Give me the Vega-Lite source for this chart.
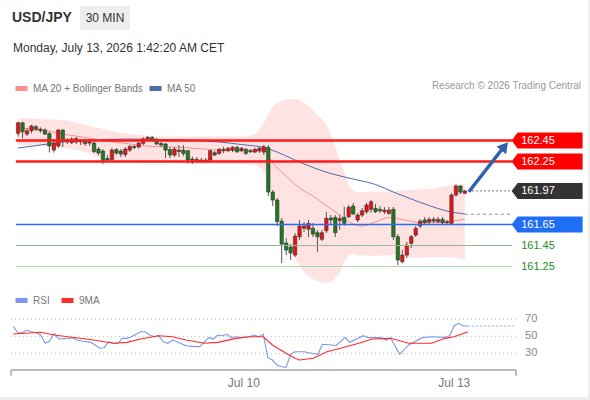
{
  "$schema": "https://vega.github.io/schema/vega-lite/v6.json",
  "background": "#eeeeee",
  "padding": {"left": 0, "top": 0, "right": 2, "bottom": 3},
  "spacing": 0,
  "bounds": "flush",
  "config": {"view": {"stroke": null, "fill": "white"}, "font": "Liberation Sans"},
  "resolve": {"scale": {"x": "independent", "y": "independent", "color": "independent"}, "legend": {"color": "independent"}},
  "datasets": {
    "candles": [
      {"i":0,"o":162.519,"h":162.629,"l":162.486,"c":162.619},
      {"i":1,"o":162.619,"h":162.629,"l":162.471,"c":162.534},
      {"i":2,"o":162.512,"h":162.566,"l":162.493,"c":162.543},
      {"i":3,"o":162.543,"h":162.600,"l":162.519,"c":162.588},
      {"i":4,"o":162.581,"h":162.598,"l":162.540,"c":162.557},
      {"i":5,"o":162.543,"h":162.576,"l":162.524,"c":162.557},
      {"i":6,"o":162.550,"h":162.566,"l":162.502,"c":162.512},
      {"i":7,"o":162.517,"h":162.531,"l":162.336,"c":162.398},
      {"i":8,"o":162.359,"h":162.464,"l":162.336,"c":162.426},
      {"i":9,"o":162.398,"h":162.559,"l":162.379,"c":162.550},
      {"i":10,"o":162.550,"h":162.559,"l":162.388,"c":162.445},
      {"i":11,"o":162.455,"h":162.474,"l":162.417,"c":162.436},
      {"i":12,"o":162.431,"h":162.483,"l":162.417,"c":162.464},
      {"i":13,"o":162.436,"h":162.483,"l":162.417,"c":162.469},
      {"i":14,"o":162.445,"h":162.464,"l":162.407,"c":162.436},
      {"i":15,"o":162.445,"h":162.464,"l":162.398,"c":162.421},
      {"i":16,"o":162.426,"h":162.464,"l":162.398,"c":162.436},
      {"i":17,"o":162.426,"h":162.436,"l":162.331,"c":162.345},
      {"i":18,"o":162.369,"h":162.388,"l":162.312,"c":162.331},
      {"i":19,"o":162.350,"h":162.369,"l":162.226,"c":162.259},
      {"i":20,"o":162.279,"h":162.312,"l":162.245,"c":162.264},
      {"i":21,"o":162.269,"h":162.379,"l":162.255,"c":162.359},
      {"i":22,"o":162.364,"h":162.379,"l":162.312,"c":162.331},
      {"i":23,"o":162.350,"h":162.369,"l":162.293,"c":162.321},
      {"i":24,"o":162.317,"h":162.388,"l":162.293,"c":162.369},
      {"i":25,"o":162.359,"h":162.407,"l":162.340,"c":162.393},
      {"i":26,"o":162.393,"h":162.407,"l":162.369,"c":162.383},
      {"i":27,"o":162.388,"h":162.436,"l":162.374,"c":162.426},
      {"i":28,"o":162.423,"h":162.483,"l":162.407,"c":162.464},
      {"i":29,"o":162.464,"h":162.493,"l":162.445,"c":162.479},
      {"i":30,"o":162.479,"h":162.493,"l":162.445,"c":162.455},
      {"i":31,"o":162.455,"h":162.474,"l":162.407,"c":162.417},
      {"i":32,"o":162.423,"h":162.436,"l":162.388,"c":162.407},
      {"i":33,"o":162.417,"h":162.426,"l":162.283,"c":162.359},
      {"i":34,"o":162.364,"h":162.388,"l":162.283,"c":162.312},
      {"i":35,"o":162.312,"h":162.388,"l":162.293,"c":162.369},
      {"i":36,"o":162.345,"h":162.407,"l":162.293,"c":162.359},
      {"i":37,"o":162.359,"h":162.407,"l":162.302,"c":162.326},
      {"i":38,"o":162.353,"h":162.359,"l":162.231,"c":162.264},
      {"i":39,"o":162.274,"h":162.298,"l":162.226,"c":162.259},
      {"i":40,"o":162.259,"h":162.293,"l":162.245,"c":162.269},
      {"i":41,"o":162.264,"h":162.283,"l":162.245,"c":162.255},
      {"i":42,"o":162.264,"h":162.283,"l":162.240,"c":162.250},
      {"i":43,"o":162.264,"h":162.359,"l":162.255,"c":162.353},
      {"i":44,"o":162.334,"h":162.350,"l":162.302,"c":162.312},
      {"i":45,"o":162.328,"h":162.379,"l":162.312,"c":162.366},
      {"i":46,"o":162.353,"h":162.391,"l":162.328,"c":162.366},
      {"i":47,"o":162.353,"h":162.388,"l":162.340,"c":162.376},
      {"i":48,"o":162.359,"h":162.398,"l":162.340,"c":162.385},
      {"i":49,"o":162.385,"h":162.398,"l":162.331,"c":162.343},
      {"i":50,"o":162.353,"h":162.388,"l":162.340,"c":162.376},
      {"i":51,"o":162.366,"h":162.379,"l":162.312,"c":162.328},
      {"i":52,"o":162.353,"h":162.369,"l":162.331,"c":162.343},
      {"i":53,"o":162.340,"h":162.379,"l":162.331,"c":162.366},
      {"i":54,"o":162.350,"h":162.388,"l":162.331,"c":162.376},
      {"i":55,"o":162.340,"h":162.407,"l":162.312,"c":162.391},
      {"i":56,"o":162.385,"h":162.407,"l":161.921,"c":161.959},
      {"i":57,"o":161.959,"h":161.979,"l":161.826,"c":161.883},
      {"i":58,"o":161.883,"h":161.902,"l":161.636,"c":161.677},
      {"i":59,"o":161.683,"h":161.712,"l":161.283,"c":161.464},
      {"i":60,"o":161.474,"h":161.521,"l":161.359,"c":161.407},
      {"i":61,"o":161.436,"h":161.464,"l":161.312,"c":161.379},
      {"i":62,"o":161.359,"h":161.569,"l":161.340,"c":161.540},
      {"i":63,"o":161.534,"h":161.693,"l":161.502,"c":161.636},
      {"i":64,"o":161.614,"h":161.674,"l":161.578,"c":161.636},
      {"i":65,"o":161.605,"h":161.693,"l":161.531,"c":161.661},
      {"i":66,"o":161.614,"h":161.664,"l":161.531,"c":161.559},
      {"i":67,"o":161.572,"h":161.598,"l":161.391,"c":161.534},
      {"i":68,"o":161.509,"h":161.598,"l":161.493,"c":161.572},
      {"i":69,"o":161.591,"h":161.769,"l":161.569,"c":161.709},
      {"i":70,"o":161.712,"h":161.740,"l":161.645,"c":161.693},
      {"i":71,"o":161.718,"h":161.740,"l":161.531,"c":161.572},
      {"i":72,"o":161.688,"h":161.740,"l":161.598,"c":161.707},
      {"i":73,"o":161.718,"h":161.819,"l":161.636,"c":161.661},
      {"i":74,"o":161.724,"h":161.836,"l":161.712,"c":161.814},
      {"i":75,"o":161.826,"h":161.855,"l":161.740,"c":161.750},
      {"i":76,"o":161.693,"h":161.759,"l":161.674,"c":161.740},
      {"i":77,"o":161.740,"h":161.807,"l":161.721,"c":161.781},
      {"i":78,"o":161.772,"h":161.857,"l":161.750,"c":161.836},
      {"i":79,"o":161.795,"h":161.883,"l":161.762,"c":161.867},
      {"i":80,"o":161.804,"h":161.845,"l":161.759,"c":161.772},
      {"i":81,"o":161.795,"h":161.826,"l":161.759,"c":161.781},
      {"i":82,"o":161.772,"h":161.817,"l":161.750,"c":161.788},
      {"i":83,"o":161.757,"h":161.817,"l":161.740,"c":161.788},
      {"i":84,"o":161.795,"h":161.817,"l":161.502,"c":161.534},
      {"i":85,"o":161.534,"h":161.559,"l":161.264,"c":161.312},
      {"i":86,"o":161.296,"h":161.407,"l":161.281,"c":161.359},
      {"i":87,"o":161.359,"h":161.486,"l":161.328,"c":161.455},
      {"i":88,"o":161.471,"h":161.550,"l":161.426,"c":161.534},
      {"i":89,"o":161.550,"h":161.636,"l":161.531,"c":161.614},
      {"i":90,"o":161.636,"h":161.702,"l":161.617,"c":161.683},
      {"i":91,"o":161.693,"h":161.721,"l":161.655,"c":161.667},
      {"i":92,"o":161.674,"h":161.721,"l":161.655,"c":161.699},
      {"i":93,"o":161.699,"h":161.721,"l":161.664,"c":161.683},
      {"i":94,"o":161.677,"h":161.721,"l":161.664,"c":161.699},
      {"i":95,"o":161.699,"h":161.721,"l":161.655,"c":161.667},
      {"i":96,"o":161.667,"h":161.693,"l":161.655,"c":161.677},
      {"i":97,"o":161.661,"h":161.950,"l":161.645,"c":161.931},
      {"i":98,"o":161.931,"h":162.036,"l":161.915,"c":162.017},
      {"i":99,"o":162.017,"h":162.026,"l":161.940,"c":161.959},
      {"i":100,"o":161.947,"h":161.979,"l":161.945,"c":161.970}
    ],
    "ma": [
      {"i":0,"series":"MA 50","v":162.379},{"i":5,"series":"MA 50","v":162.407},{"i":10,"series":"MA 50","v":162.436},
      {"i":15,"series":"MA 50","v":162.455},{"i":20,"series":"MA 50","v":162.461},{"i":25,"series":"MA 50","v":162.464},
      {"i":30,"series":"MA 50","v":162.461},{"i":35,"series":"MA 50","v":162.459},{"i":40,"series":"MA 50","v":162.450},
      {"i":45,"series":"MA 50","v":162.436},{"i":50,"series":"MA 50","v":162.412},{"i":55,"series":"MA 50","v":162.383},
      {"i":58,"series":"MA 50","v":162.340},{"i":62,"series":"MA 50","v":162.264},{"i":66,"series":"MA 50","v":162.193},
      {"i":70,"series":"MA 50","v":162.136},{"i":75,"series":"MA 50","v":162.083},{"i":80,"series":"MA 50","v":162.031},
      {"i":84,"series":"MA 50","v":161.959},{"i":88,"series":"MA 50","v":161.893},{"i":92,"series":"MA 50","v":161.831},
      {"i":96,"series":"MA 50","v":161.778},{"i":100,"series":"MA 50","v":161.750},
      {"i":0,"series":"MA 20 + Bollinger Bands","v":162.569},{"i":5,"series":"MA 20 + Bollinger Bands","v":162.555},
      {"i":10,"series":"MA 20 + Bollinger Bands","v":162.512},{"i":15,"series":"MA 20 + Bollinger Bands","v":162.479},
      {"i":20,"series":"MA 20 + Bollinger Bands","v":162.445},{"i":25,"series":"MA 20 + Bollinger Bands","v":162.417},
      {"i":30,"series":"MA 20 + Bollinger Bands","v":162.393},{"i":35,"series":"MA 20 + Bollinger Bands","v":162.388},
      {"i":40,"series":"MA 20 + Bollinger Bands","v":162.374},{"i":45,"series":"MA 20 + Bollinger Bands","v":162.359},
      {"i":50,"series":"MA 20 + Bollinger Bands","v":162.355},{"i":55,"series":"MA 20 + Bollinger Bands","v":162.359},
      {"i":57,"series":"MA 20 + Bollinger Bands","v":162.236},{"i":60,"series":"MA 20 + Bollinger Bands","v":162.112},
      {"i":63,"series":"MA 20 + Bollinger Bands","v":161.998},{"i":66,"series":"MA 20 + Bollinger Bands","v":161.921},
      {"i":69,"series":"MA 20 + Bollinger Bands","v":161.831},{"i":72,"series":"MA 20 + Bollinger Bands","v":161.740},
      {"i":75,"series":"MA 20 + Bollinger Bands","v":161.655},{"i":77,"series":"MA 20 + Bollinger Bands","v":161.636},
      {"i":80,"series":"MA 20 + Bollinger Bands","v":161.674},{"i":83,"series":"MA 20 + Bollinger Bands","v":161.717},
      {"i":86,"series":"MA 20 + Bollinger Bands","v":161.698},{"i":90,"series":"MA 20 + Bollinger Bands","v":161.669},
      {"i":95,"series":"MA 20 + Bollinger Bands","v":161.674},{"i":100,"series":"MA 20 + Bollinger Bands","v":161.702}
    ],
    "bands": [
      {"i":0,"upper":162.664,"lower":162.407},{"i":5,"upper":162.655,"lower":162.398},{"i":10,"upper":162.645,"lower":162.379},
      {"i":15,"upper":162.598,"lower":162.340},{"i":20,"upper":162.550,"lower":162.264},{"i":25,"upper":162.512,"lower":162.245},
      {"i":30,"upper":162.493,"lower":162.236},{"i":35,"upper":162.488,"lower":162.236},{"i":40,"upper":162.488,"lower":162.226},
      {"i":45,"upper":162.488,"lower":162.226},{"i":50,"upper":162.488,"lower":162.226},{"i":53,"upper":162.512,"lower":162.217},
      {"i":55,"upper":162.617,"lower":162.150},{"i":57,"upper":162.769,"lower":161.931},{"i":60,"upper":162.840,"lower":161.502},
      {"i":62,"upper":162.845,"lower":161.331},{"i":64,"upper":162.807,"lower":161.198},{"i":67,"upper":162.693,"lower":161.112},
      {"i":69,"upper":162.598,"lower":161.093},{"i":70,"upper":162.502,"lower":161.102},{"i":71,"upper":162.388,"lower":161.150},
      {"i":72,"upper":162.264,"lower":161.198},{"i":73,"upper":162.150,"lower":161.293},{"i":74,"upper":162.026,"lower":161.350},
      {"i":75,"upper":161.979,"lower":161.369},{"i":76,"upper":161.959,"lower":161.359},{"i":80,"upper":161.959,"lower":161.350},
      {"i":84,"upper":161.969,"lower":161.359},{"i":88,"upper":161.979,"lower":161.331},{"i":92,"upper":161.988,"lower":161.340},
      {"i":96,"upper":162.017,"lower":161.340},{"i":100,"upper":162.036,"lower":161.312}
    ],
    "levels": [
      {"price":162.45,"label":"162.45","kind":"resistance"},
      {"price":162.25,"label":"162.25","kind":"resistance"},
      {"price":161.97,"label":"161.97","kind":"last"},
      {"price":161.65,"label":"161.65","kind":"pivot"},
      {"price":161.45,"label":"161.45","kind":"support"},
      {"price":161.25,"label":"161.25","kind":"support"}
    ],
    "rsi": [
      {"i":0,"series":"RSI","v":61.3},{"i":1,"series":"RSI","v":54.2},{"i":2,"series":"RSI","v":54.2},{"i":3,"series":"RSI","v":57.4},
      {"i":4,"series":"RSI","v":55.4},{"i":5,"series":"RSI","v":54.2},{"i":6,"series":"RSI","v":51.5},{"i":7,"series":"RSI","v":41.8},
      {"i":8,"series":"RSI","v":44.5},{"i":9,"series":"RSI","v":53.5},{"i":10,"series":"RSI","v":46.8},{"i":12,"series":"RSI","v":47.6},
      {"i":13,"series":"RSI","v":48.4},{"i":14,"series":"RSI","v":45.6},{"i":15,"series":"RSI","v":44.5},{"i":17,"series":"RSI","v":42.9},
      {"i":18,"series":"RSI","v":39.8},{"i":19,"series":"RSI","v":35.9},{"i":20,"series":"RSI","v":36.6},{"i":21,"series":"RSI","v":43.6},
      {"i":22,"series":"RSI","v":41.8},{"i":23,"series":"RSI","v":41.8},{"i":24,"series":"RSI","v":47.6},{"i":25,"series":"RSI","v":47.6},
      {"i":26,"series":"RSI","v":49.5},{"i":28,"series":"RSI","v":55.4},{"i":29,"series":"RSI","v":55.4},{"i":30,"series":"RSI","v":51.5},
      {"i":31,"series":"RSI","v":49.5},{"i":32,"series":"RSI","v":50.7},{"i":33,"series":"RSI","v":43.6},{"i":34,"series":"RSI","v":41.8},
      {"i":35,"series":"RSI","v":45.6},{"i":36,"series":"RSI","v":43.6},{"i":38,"series":"RSI","v":38.9},{"i":40,"series":"RSI","v":37.8},
      {"i":41,"series":"RSI","v":37.8},{"i":43,"series":"RSI","v":48.4},{"i":44,"series":"RSI","v":46.8},{"i":45,"series":"RSI","v":51.5},
      {"i":46,"series":"RSI","v":50.7},{"i":47,"series":"RSI","v":52.4},{"i":48,"series":"RSI","v":48.4},{"i":49,"series":"RSI","v":49.5},
      {"i":50,"series":"RSI","v":48.4},{"i":52,"series":"RSI","v":49.5},{"i":53,"series":"RSI","v":51.5},{"i":54,"series":"RSI","v":49.5},
      {"i":55,"series":"RSI","v":52.4},{"i":56,"series":"RSI","v":24.8},{"i":57,"series":"RSI","v":22.1},{"i":58,"series":"RSI","v":16.2},
      {"i":59,"series":"RSI","v":14.2},{"i":60,"series":"RSI","v":13.5},{"i":61,"series":"RSI","v":28.8},{"i":62,"series":"RSI","v":31.9},
      {"i":64,"series":"RSI","v":31.9},{"i":65,"series":"RSI","v":30.7},{"i":67,"series":"RSI","v":28.8},{"i":68,"series":"RSI","v":40.6},
      {"i":70,"series":"RSI","v":39.8},{"i":71,"series":"RSI","v":38.9},{"i":73,"series":"RSI","v":48.8},{"i":74,"series":"RSI","v":42.9},
      {"i":77,"series":"RSI","v":50.7},{"i":78,"series":"RSI","v":48.4},{"i":81,"series":"RSI","v":48.4},{"i":82,"series":"RSI","v":45.6},
      {"i":83,"series":"RSI","v":48.4},{"i":85,"series":"RSI","v":28.8},{"i":87,"series":"RSI","v":39.8},{"i":90,"series":"RSI","v":48.4},
      {"i":92,"series":"RSI","v":49.5},{"i":95,"series":"RSI","v":48.8},{"i":96,"series":"RSI","v":50.7},{"i":97,"series":"RSI","v":62.5},
      {"i":98,"series":"RSI","v":65.3},{"i":99,"series":"RSI","v":62.1},{"i":100,"series":"RSI","v":62.1},
      {"i":0,"series":"9MA","v":52.7},{"i":6,"series":"9MA","v":54.7},{"i":9,"series":"9MA","v":51.5},{"i":12,"series":"9MA","v":49.5},
      {"i":16,"series":"9MA","v":46.8},{"i":19,"series":"9MA","v":44.5},{"i":22,"series":"9MA","v":41.8},{"i":25,"series":"9MA","v":42.9},
      {"i":28,"series":"9MA","v":46.8},{"i":32,"series":"9MA","v":50.7},{"i":35,"series":"9MA","v":49.5},{"i":38,"series":"9MA","v":45.6},
      {"i":42,"series":"9MA","v":41.8},{"i":45,"series":"9MA","v":42.9},{"i":49,"series":"9MA","v":47.6},{"i":52,"series":"9MA","v":49.5},
      {"i":55,"series":"9MA","v":49.5},{"i":57,"series":"9MA","v":39.8},{"i":60,"series":"9MA","v":30.0},{"i":62,"series":"9MA","v":24.1},
      {"i":63,"series":"9MA","v":22.1},{"i":66,"series":"9MA","v":24.1},{"i":69,"series":"9MA","v":31.9},{"i":72,"series":"9MA","v":35.9},
      {"i":76,"series":"9MA","v":41.8},{"i":79,"series":"9MA","v":46.8},{"i":83,"series":"9MA","v":47.6},{"i":87,"series":"9MA","v":41.8},
      {"i":92,"series":"9MA","v":41.8},{"i":95,"series":"9MA","v":47.6},{"i":97,"series":"9MA","v":49.5},{"i":100,"series":"9MA","v":55.4}
    ],
    "rsiLevels": [{"level":70},{"level":50},{"level":30}]
  },
  "vconcat": [
    {
      "width": 588,
      "height": 100,
      "data": {"values": [{"pair":"USD/JPY","interval":"30 MIN","stamp":"Monday, July 13, 2026 1:42:20 AM CET","credit":"Research © 2026 Trading Central"}]},
      "layer": [
        {"mark": {"type":"rect","fill":"#eeeeee"},
         "encoding": {
           "x": {"datum":80,"type":"quantitative","scale":{"domain":[0,588],"nice":false,"zero":false},"axis":null},
           "x2": {"datum":130},
           "y": {"datum":6,"type":"quantitative","scale":{"domain":[0,100],"nice":false,"reverse":true},"axis":null},
           "y2": {"datum":30}}},
        {"mark": {"type":"text","align":"left","baseline":"middle","fontSize":14,"fontWeight":"bold","color":"#333333"},
         "encoding": {"x":{"datum":12,"type":"quantitative","axis":null},"y":{"datum":18,"type":"quantitative","axis":null},"text":{"field":"pair"}}},
        {"mark": {"type":"text","align":"center","baseline":"middle","fontSize":12,"color":"#333333"},
         "encoding": {"x":{"datum":105,"type":"quantitative","axis":null},"y":{"datum":18,"type":"quantitative","axis":null},"text":{"field":"interval"}}},
        {"mark": {"type":"text","align":"left","baseline":"middle","fontSize":12,"color":"#333333"},
         "encoding": {"x":{"datum":13,"type":"quantitative","axis":null},"y":{"datum":48,"type":"quantitative","axis":null},"text":{"field":"stamp"}}},
        {"mark": {"type":"text","align":"right","baseline":"middle","fontSize":10,"color":"#999999"},
         "encoding": {"x":{"datum":581,"type":"quantitative","axis":null},"y":{"datum":86,"type":"quantitative","axis":null},"text":{"field":"credit"}}}
      ]
    },
    {
      "width": 588,
      "height": 187,
      "layer": [
        {"data": {"name":"bands"},
         "mark": {"type":"area","color":"#ffdcdc","opacity":0.8,"interpolate":"monotone"},
         "encoding": {
           "x": {"field":"i","type":"quantitative","scale":{"domain":[-2.93,126.44],"nice":false,"zero":false},"axis":null},
           "y": {"field":"lower","type":"quantitative","scale":{"domain":[161.055,162.836],"nice":false,"zero":false},"axis":null},
           "y2": {"field":"upper"}}},
        {"data": {"name":"ma"},
         "mark": {"type":"line","strokeWidth":1,"interpolate":"monotone"},
         "encoding": {
           "x": {"field":"i","type":"quantitative","axis":null},
           "y": {"field":"v","type":"quantitative","axis":null},
           "color": {"field":"series","type":"nominal",
             "scale":{"domain":["MA 20 + Bollinger Bands","MA 50"],"range":["#f79090","#4a6ea8"]},
             "legend":{"orient":"none","legendX":13,"legendY":-20,"direction":"horizontal","title":null,"gridAlign":"none",
               "symbolType":"stroke","symbolSize":144,"symbolStrokeWidth":5,"labelFontSize":10,"labelColor":"#777777",
               "columnPadding":-5,"labelOffset":3,"padding":0,"labelLimit":400}}}},
        {"data": {"name":"candles"},
         "mark": {"type":"rule","color":"#555555","strokeWidth":1},
         "encoding": {
           "x": {"field":"i","type":"quantitative","axis":null},
           "y": {"field":"l","type":"quantitative","axis":null},
           "y2": {"field":"h"}}},
        {"data": {"name":"candles"},
         "mark": {"type":"bar","width":3.4,"stroke":"#333333","strokeWidth":0.6},
         "encoding": {
           "x": {"field":"i","type":"quantitative","axis":null},
           "y": {"field":"o","type":"quantitative","axis":null},
           "y2": {"field":"c"},
           "fill": {"condition":{"test":"datum.c >= datum.o","value":"#ee1111"},"value":"#1f7a1f"}}},
        {"data": {"name":"levels"},
         "transform": [{"filter":"datum.kind !== 'last'"}],
         "mark": {"type":"rule"},
         "encoding": {
           "x": {"datum":-0.5,"type":"quantitative","axis":null},
           "x2": {"datum":110.6},
           "y": {"field":"price","type":"quantitative","axis":null},
           "color": {"condition":[{"test":"datum.kind === 'resistance'","value":"#ff1a1a"},{"test":"datum.kind === 'pivot'","value":"#2a6df0"},{"test":"datum.price > 161.3","value":"#93b993"}],"value":"#a8d8a8"},
           "strokeWidth": {"condition":[{"test":"datum.kind === 'resistance'","value":2.5},{"test":"datum.kind === 'pivot'","value":1.5}],"value":1}}},
        {"data": {"name":"levels"},
         "transform": [{"filter":"datum.kind === 'last'"}],
         "mark": {"type":"rule","color":"#777777","strokeWidth":1,"strokeDash":[2,2]},
         "encoding": {
           "x": {"datum":100.7,"type":"quantitative","axis":null},
           "x2": {"datum":110.6},
           "y": {"field":"price","type":"quantitative","axis":null}}},
        {"data": {"values":[{}]},
         "mark": {"type":"rule","color":"#7a94c4","strokeWidth":1,"strokeDash":[3,3]},
         "encoding": {
           "x": {"datum":100,"type":"quantitative","axis":null},
           "x2": {"datum":110.6},
           "y": {"datum":161.748,"type":"quantitative","axis":null}}},
        {"data": {"values":[{}]},
         "mark": {"type":"rule","color":"#2f62a8","strokeWidth":3.5},
         "encoding": {
           "x": {"datum":100.9,"type":"quantitative","axis":null},
           "x2": {"datum":108.4},
           "y": {"datum":161.962,"type":"quantitative","axis":null},
           "y2": {"datum":162.372}}},
        {"data": {"values":[{}]},
         "mark": {"type":"point","shape":"triangle-up","filled":true,"color":"#2f62a8","opacity":1,"size":150,"angle":38.7},
         "encoding": {
           "x": {"datum":108.9,"type":"quantitative","axis":null},
           "y": {"datum":162.395,"type":"quantitative","axis":null}}},
        {"data": {"name":"levels"},
         "transform": [{"filter":"datum.kind !== 'support'"}],
         "mark": {"type":"point","shape":"M -1 0 L -0.831 -0.225 L 1 -0.225 L 1 0.225 L -0.831 0.225 Z","filled":true,"opacity":1,"size":5041,"strokeWidth":0},
         "encoding": {
           "x": {"datum":118.41,"type":"quantitative","axis":null},
           "y": {"field":"price","type":"quantitative","axis":null},
           "color": {"condition":[{"test":"datum.kind === 'resistance'","value":"#ff0000"},{"test":"datum.kind === 'last'","value":"#333333"}],"value":"#1f6ef5"}}},
        {"data": {"name":"levels"},
         "mark": {"type":"text","align":"left","baseline":"middle","fontSize":11},
         "encoding": {
           "x": {"datum":112.6,"type":"quantitative","axis":null},
           "y": {"field":"price","type":"quantitative","axis":null},
           "text": {"field":"label"},
           "color": {"condition":{"test":"datum.kind === 'support'","value":"#1e8c1e"},"value":"#ffffff"}}}
      ]
    },
    {
      "width": 588,
      "height": 110,
      "layer": [
        {"data": {"name":"rsiLevels"},
         "mark": {"type":"rule","color":"#bbbbbb","strokeWidth":1,"strokeDash":[1,3]},
         "encoding": {
           "x": {"datum":-0.5,"type":"quantitative","scale":{"domain":[-2.93,126.44],"nice":false,"zero":false},
             "axis":{"values":[50.6,96.9],"labelExpr":"datum.value < 70 ? 'Jul 10' : 'Jul 13'","domain":false,"ticks":false,"grid":false,
               "labelColor":"#777777","labelFontSize":12,"labelPadding":7,"offset":-27,"title":null,"labelFlush":false}},
           "x2": {"datum":110.6},
           "y": {"field":"level","type":"quantitative","scale":{"domain":[-21.41,108],"nice":false,"zero":false},"axis":null}}},
        {"data": {"name":"rsiLevels"},
         "mark": {"type":"text","align":"left","baseline":"middle","fontSize":11,"color":"#888888"},
         "encoding": {
           "x": {"datum":112.6,"type":"quantitative"},
           "y": {"field":"level","type":"quantitative","axis":null},
           "text": {"field":"level"}}},
        {"data": {"values":[{}]},
         "mark": {"type":"rule","color":"#bbbbbb","strokeWidth":2},
         "encoding": {
           "x": {"datum":-0.5,"type":"quantitative"},
           "x2": {"datum":110.6},
           "y": {"datum":10.35,"type":"quantitative","axis":null}}},
        {"data": {"values":[{}]},
         "mark": {"type":"rule","color":"#bbbbbb","strokeWidth":2},
         "encoding": {
           "x": {"datum":-0.5,"type":"quantitative"},
           "y": {"datum":10.35,"type":"quantitative","axis":null},
           "y2": {"datum":3.5}}},
        {"data": {"values":[{}]},
         "mark": {"type":"rule","color":"#bbbbbb","strokeWidth":2},
         "encoding": {
           "x": {"datum":110.6,"type":"quantitative"},
           "y": {"datum":10.35,"type":"quantitative","axis":null},
           "y2": {"datum":3.5}}},
        {"data": {"values":[{}]},
         "mark": {"type":"rule","color":"#9ab0ee","strokeWidth":1,"strokeDash":[2,2]},
         "encoding": {
           "x": {"datum":100,"type":"quantitative"},
           "x2": {"datum":110.6},
           "y": {"datum":62.1,"type":"quantitative","axis":null}}},
        {"data": {"name":"rsi"},
         "mark": {"type":"line","strokeWidth":1.1},
         "encoding": {
           "x": {"field":"i","type":"quantitative"},
           "y": {"field":"v","type":"quantitative","axis":null},
           "color": {"field":"series","type":"nominal",
             "scale":{"domain":["RSI","9MA"],"range":["#7a98ea","#ff2a2a"]},
             "legend":{"orient":"none","legendX":13,"legendY":5,"direction":"horizontal","title":null,"gridAlign":"none",
               "symbolType":"stroke","symbolSize":144,"symbolStrokeWidth":5,"labelFontSize":10,"labelColor":"#777777",
               "columnPadding":1,"labelOffset":3,"padding":0}}}}
      ]
    }
  ]
}
